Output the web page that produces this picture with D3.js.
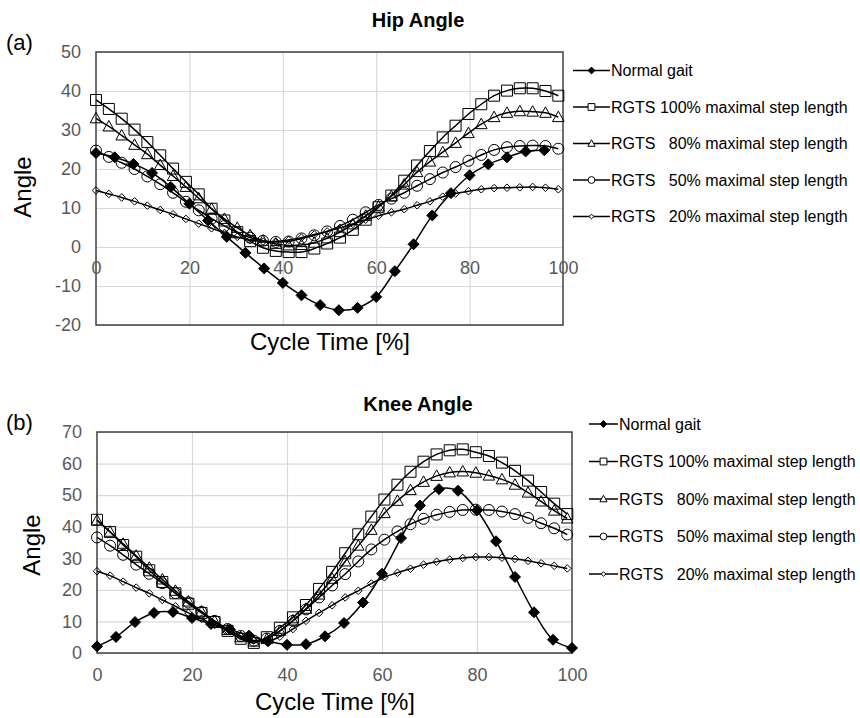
<!DOCTYPE html>
<html>
<head>
<meta charset="utf-8">
<script src="https://cdn.jsdelivr.net/npm/d3@7"></script>
<style>
  body { margin: 0; background: #fff; }
  svg text { font-family: "Liberation Sans", Arial, sans-serif; }
</style>
</head>
<body>
<svg id="chart" width="860" height="718"></svg>
<script>
/* Cycle time of the samples [%] */
const normalHipCycle = [0, 4, 8, 12, 16, 20, 24, 28, 32, 36, 40, 44, 48, 52, 56, 60, 64, 68, 72, 76, 80, 84, 88, 92, 96]
const normalKneeCycle = [0, 4, 8, 12, 16, 20, 24, 28, 32, 36, 40, 44, 48, 52, 56, 60, 64, 68, 72, 76, 80, 84, 88, 92, 96, 100]
const rgtsCycle = [0, 2.75, 5.5, 8.25, 11, 13.75, 16.5, 19.25, 22, 24.75, 27.5, 30.25, 33, 35.75, 38.5, 41.25, 44, 46.75, 49.5,
  52.25, 55, 57.75, 60.5, 63.25, 66, 68.75, 71.5, 74.25, 77, 79.75, 82.5, 85.25, 88, 90.75, 93.5, 96.25, 99]

/* Hip angle */
const hipNormal = [24.1, 23.0, 21.3, 19.0, 15.4, 11.1, 6.8, 2.6, -1.5, -5.5, -9.2, -12.4, -14.9, -16.2, -15.6, -12.8, -6.2, 0.7, 8.1, 13.8, 18.4, 21.2, 23.0, 24.5, 24.8]
const hip100 = [37.7, 35.4, 32.9, 30.1, 26.9, 23.5, 20.1, 16.7, 13.5, 9.8, 6.8, 3.8, 1.5, -0.2, -1.0, -1.3, -1.3, -0.4, 0.9,
  2.4, 4.4, 7.0, 10.2, 13.2, 17.0, 20.9, 24.6, 28.1, 31.1, 34.1, 36.6, 38.8, 40.1, 40.7, 40.7, 40.0, 38.8]
const hip80 = [33.0, 30.9, 28.6, 26.2, 23.8, 21.0, 18.2, 15.4, 12.5, 9.8, 7.2, 4.9, 3.0, 1.6, 0.8, 0.4, 0.5, 1.1, 2.2,
  3.8, 5.8, 8.0, 10.4, 13.0, 16.0, 19.2, 21.9, 24.3, 26.7, 29.2, 31.5, 33.3, 34.4, 34.8, 34.7, 34.4, 33.3]
const hip50 = [24.7, 23.1, 21.6, 20.0, 18.1, 16.1, 13.9, 11.6, 9.4, 7.3, 5.4, 3.7, 2.4, 1.6, 1.3, 1.4, 2.2, 3.0, 4.0,
  5.4, 7.0, 8.9, 10.8, 12.4, 13.9, 15.7, 17.4, 19.1, 20.5, 22.1, 23.6, 24.9, 25.6, 25.9, 26.0, 25.9, 25.2]
const hip20 = [14.5, 13.6, 12.7, 11.7, 10.6, 9.5, 8.4, 7.2, 6.0, 4.8, 3.6, 2.6, 1.8, 1.4, 1.4, 1.8, 2.4, 3.2, 4.0,
  4.9, 5.9, 7.0, 8.0, 8.9, 9.7, 10.7, 11.7, 12.9, 13.7, 14.3, 14.8, 15.1, 15.2, 15.3, 15.4, 15.2, 14.8]

/* Knee angle */
const kneeNormal = [2.1, 5.1, 9.8, 12.7, 13.0, 11.1, 9.2, 7.4, 5.5, 3.7, 2.6, 2.8, 5.3, 9.5, 16.0, 25.1, 36.4, 46.7, 51.9, 51.4, 45.2, 35.4, 24.1, 12.9, 4.2, 1.6]
const knee100 = [42.2, 38.3, 34.2, 30.5, 26.2, 22.5, 18.9, 15.6, 12.7, 9.8, 7.0, 4.5, 3.2, 5.0, 8.0, 11.3, 15.2, 20.3, 25.7,
  31.6, 37.6, 43.2, 48.6, 53.3, 57.4, 60.6, 62.9, 64.2, 64.5, 63.6, 62.4, 60.3, 57.7, 54.6, 51.0, 47.3, 44.0]
const knee80 = [42.0, 38.4, 34.6, 30.8, 27.0, 23.3, 19.7, 16.3, 13.1, 10.1, 7.3, 5.0, 3.6, 4.4, 7.0, 10.3, 14.0, 18.5, 23.5,
  29.0, 34.0, 39.0, 44.3, 48.2, 51.6, 54.2, 56.1, 57.2, 57.5, 57.1, 56.2, 55.0, 53.3, 50.8, 48.0, 45.1, 42.6]
const knee50 = [36.6, 34.0, 31.1, 28.0, 25.1, 22.1, 19.0, 16.0, 13.0, 10.2, 7.6, 5.4, 3.9, 4.6, 7.0, 10.2, 13.8, 17.6, 21.4,
  25.0, 29.0, 32.8, 35.9, 38.5, 40.8, 42.5, 43.8, 44.7, 45.3, 45.4, 45.3, 44.8, 44.0, 42.8, 41.1, 39.5, 37.5]
const knee20 = [25.9, 24.5, 22.6, 20.7, 18.9, 16.8, 14.8, 12.7, 10.8, 8.9, 7.0, 5.3, 4.0, 3.6, 5.2, 7.6, 10.2, 12.7, 15.1,
  17.6, 19.7, 22.0, 24.0, 25.4, 26.7, 28.0, 28.9, 29.6, 30.1, 30.4, 30.4, 30.2, 29.8, 29.2, 28.4, 27.6, 26.8]

/* Ticks and labels */
const xTicks = [0, 20, 40, 60, 80, 100]
const hipTicks = [-20, -10, 0, 10, 20, 30, 40, 50]
const kneeTicks = [0, 10, 20, 30, 40, 50, 60, 70]
const seriesNames = ['Normal gait', 'RGTS 100% maximal step length', 'RGTS   80% maximal step length',
  'RGTS   50% maximal step length', 'RGTS   20% maximal step length']
const markerKinds = ['diamondFilled', 'square', 'triangle', 'circle', 'diamondSmall']

const svg = d3.select('#chart')

/* marker path, centred on 0,0 */
function markerPath(kind, s) {
  const p = d3.path()
  if (kind === 'square') {
    p.rect(-5.5 * s, -5.5 * s, 11 * s, 11 * s)
  } else if (kind === 'triangle') {
    p.moveTo(0, -6 * s); p.lineTo(5.8 * s, 4.5 * s); p.lineTo(-5.8 * s, 4.5 * s); p.closePath()
  } else if (kind === 'circle') {
    p.arc(0, 0, 5.5 * s, 0, 2 * Math.PI)
  } else {
    const r = (kind === 'diamondFilled' ? 5.5 : 3.8) * s
    p.moveTo(0, -r); p.lineTo(r, 0); p.lineTo(0, r); p.lineTo(-r, 0); p.closePath()
  }
  return p.toString()
}

function drawPanel(cfg) {
  const x = d3.scaleLinear().domain([0, 100]).range([cfg.left, cfg.right])
  const y = d3.scaleLinear().domain(cfg.yDomain).range([cfg.bottom, cfg.top])
  const g = svg.append('g')
  const plain = d => String(d)   // hyphen minus, like the original

  /* grid */
  g.append('g').attr('transform', `translate(${cfg.left},0)`)
    .call(d3.axisLeft(y).tickValues(cfg.yTicks).tickSize(-(cfg.right - cfg.left)).tickFormat(''))
    .call(a => a.select('.domain').remove())
    .selectAll('line').attr('stroke', '#d9d9d9').attr('stroke-width', 1.2)
  g.append('g').attr('transform', `translate(0,${cfg.bottom})`)
    .call(d3.axisBottom(x).tickValues([20, 40, 60, 80]).tickSize(-(cfg.bottom - cfg.top)).tickFormat(''))
    .call(a => a.select('.domain').remove())
    .selectAll('line').attr('stroke', '#d9d9d9').attr('stroke-width', 1.2)

  g.append('rect')
    .attr('x', cfg.left).attr('y', cfg.top)
    .attr('width', cfg.right - cfg.left).attr('height', cfg.bottom - cfg.top)
    .attr('fill', 'none').attr('stroke', '#404040').attr('stroke-width', 1.5)

  /* tick labels */
  g.append('g').attr('transform', `translate(${cfg.left},0)`)
    .call(d3.axisLeft(y).tickValues(cfg.yTicks).tickSize(0).tickPadding(15).tickFormat(plain))
    .call(a => a.select('.domain').remove())
    .selectAll('text').attr('font-size', 18).attr('fill', '#595959')
    .style('font-family', '"Liberation Sans", Arial, sans-serif')
  g.append('g').attr('transform', `translate(0,${y(0)})`)
    .call(d3.axisBottom(x).tickValues(xTicks).tickSize(0).tickPadding(cfg.xPad).tickFormat(plain))
    .call(a => a.select('.domain').remove())
    .selectAll('text').attr('font-size', 18).attr('fill', '#595959')
    .style('font-family', '"Liberation Sans", Arial, sans-serif')

  /* series */
  const line = d3.line().x(d => x(d[0])).y(d => y(d[1])).curve(d3.curveCatmullRom)
  cfg.series.forEach((s, i) => {
    const pts = s.xs.map((v, k) => [v, s.ys[k]])
    g.append('path').attr('d', line(pts))
      .attr('fill', 'none').attr('stroke', '#000').attr('stroke-width', 1.5)
    g.append('g').selectAll('path').data(pts).enter().append('path')
      .attr('transform', d => `translate(${x(d[0])},${y(d[1])})`)
      .attr('d', markerPath(markerKinds[i], 1))
      .attr('fill', markerKinds[i] === 'diamondFilled' ? '#000' : 'none')
      .attr('stroke', '#000').attr('stroke-width', 1)
  })

  /* texts */
  g.append('text').attr('x', cfg.titleX).attr('y', cfg.titleY).attr('text-anchor', 'middle')
    .attr('font-size', 20).attr('font-weight', 'bold').text(cfg.title)
  g.append('text').attr('x', 6).attr('y', cfg.tagY).attr('font-size', 22).text(cfg.tag)
  g.append('text').attr('transform', `translate(${cfg.yLabelX},${cfg.yLabelY}) rotate(-90)`)
    .attr('text-anchor', 'middle').attr('font-size', 24).text('Angle')
  g.append('text').attr('x', cfg.xLabelX).attr('y', cfg.xLabelY).attr('text-anchor', 'middle')
    .attr('font-size', 24).text('Cycle Time [%]')

  /* legend */
  seriesNames.forEach((name, i) => {
    const ly = cfg.legY + i * cfg.legDy
    const lg = g.append('g')
    lg.append('line').attr('x1', cfg.legX1).attr('x2', cfg.legX2).attr('y1', ly).attr('y2', ly)
      .attr('stroke', '#000').attr('stroke-width', 1.5)
    lg.append('path').attr('transform', `translate(${(cfg.legX1 + cfg.legX2) / 2},${ly})`)
      .attr('d', markerPath(markerKinds[i], 0.62))
      .attr('fill', markerKinds[i] === 'diamondFilled' ? '#000' : '#fff')
      .attr('stroke', '#000').attr('stroke-width', 1)
    lg.append('text').attr('x', cfg.legX2 + 1).attr('y', ly + 5.5)
      .attr('font-size', 16).attr('xml:space', 'preserve').style('white-space', 'pre')
      .text(name)
  })
}

drawPanel({
  title: 'Hip Angle', titleX: 418, titleY: 27, tag: '(a)', tagY: 50,
  left: 96, right: 563, top: 52, bottom: 325, yDomain: [-20, 50], yTicks: hipTicks, xPad: 14,
  yLabelX: 31, yLabelY: 187, xLabelX: 330, xLabelY: 350,
  legX1: 573, legX2: 610, legY: 70.5, legDy: 36.5,
  series: [
    { xs: normalHipCycle, ys: hipNormal },
    { xs: rgtsCycle, ys: hip100 },
    { xs: rgtsCycle, ys: hip80 },
    { xs: rgtsCycle, ys: hip50 },
    { xs: rgtsCycle, ys: hip20 }
  ]
})

drawPanel({
  title: 'Knee Angle', titleX: 418, titleY: 411, tag: '(b)', tagY: 430,
  left: 97, right: 572, top: 432, bottom: 653, yDomain: [0, 70], yTicks: kneeTicks, xPad: 15,
  yLabelX: 40, yLabelY: 545, xLabelX: 335, xLabelY: 710,
  legX1: 589, legX2: 618, legY: 424, legDy: 37.5,
  series: [
    { xs: normalKneeCycle, ys: kneeNormal },
    { xs: rgtsCycle, ys: knee100 },
    { xs: rgtsCycle, ys: knee80 },
    { xs: rgtsCycle, ys: knee50 },
    { xs: rgtsCycle, ys: knee20 }
  ]
})
</script>
</body>
</html>
